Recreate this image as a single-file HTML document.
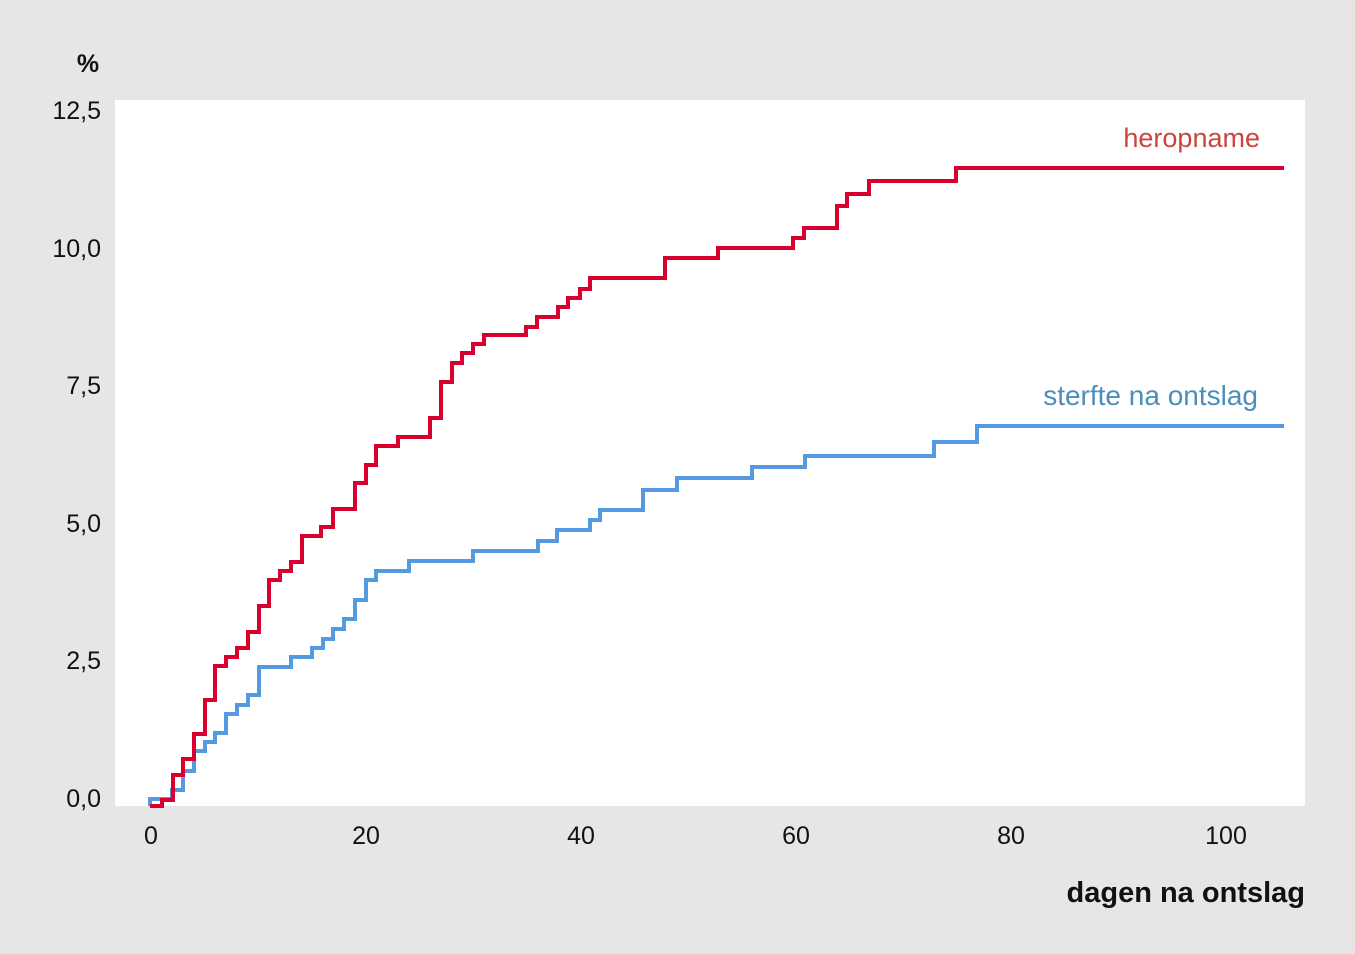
<!DOCTYPE html>
<html><head><meta charset="utf-8"><style>
html,body{margin:0;padding:0;background:#e6e6e6;}
svg{display:block;font-family:"Liberation Sans",sans-serif;}
</style></head><body>
<svg width="1355" height="954" viewBox="0 0 1355 954">
<rect width="1355" height="954" fill="#e6e6e6"/>
<rect x="115" y="100" width="1190" height="706" fill="#fff"/>
<g font-size="25" fill="#111" text-anchor="end">
<text x="101" y="119">12,5</text>
<text x="101" y="257">10,0</text>
<text x="101" y="394">7,5</text>
<text x="101" y="532">5,0</text>
<text x="101" y="669">2,5</text>
<text x="101" y="807">0,0</text>
</g>
<g font-size="25" fill="#111" text-anchor="middle">
<text x="151" y="844">0</text>
<text x="366" y="844">20</text>
<text x="581" y="844">40</text>
<text x="796" y="844">60</text>
<text x="1011" y="844">80</text>
<text x="1226" y="844">100</text>
</g>
<text x="88" y="72" font-size="25" font-weight="bold" text-anchor="middle" fill="#111">%</text>
<text x="1305" y="902" font-size="29" font-weight="bold" text-anchor="end" fill="#111">dagen na ontslag</text>
<text x="1260" y="147" font-size="27" text-anchor="end" fill="#c9463d">heropname</text>
<text x="1258" y="405" font-size="28" text-anchor="end" fill="#4a8fba">sterfte na ontslag</text>
<path fill="none" stroke="#5599e0" stroke-width="4" d="M150,806 V799 H172 V790 H183 V771 H194 V751 H205 V742 H215 V733 H226 V714 H237 V705 H248 V695 H259 V667 H291 V657 H312 V648 H323 V639 H333 V629 H344 V619 H355 V600 H366 V580 H376 V571 H409 V561 H473 V551 H538 V541 H557 V530 H590 V520 H600 V510 H643 V490 H677 V478 H752 V467 H805 V456 H934 V442 H977 V426 H1284"/>
<path fill="none" stroke="#d9002f" stroke-width="4" d="M150,806 H162 V800 H173 V775 H183 V759 H194 V734 H205 V700 H215 V666 H226 V657 H237 V648 H248 V632 H259 V606 H269 V580 H280 V571 H291 V562 H302 V536 H321 V527 H333 V509 H355 V483 H366 V465 H376 V446 H398 V437 H430 V418 H441 V382 H452 V363 H462 V353 H473 V344 H484 V335 H526 V327 H537 V317 H558 V307 H568 V298 H580 V289 H590 V278 H665 V258 H718 V248 H793 V238 H804 V228 H837 V206 H847 V194 H869 V181 H956 V168 H1284"/>
</svg>
</body></html>
